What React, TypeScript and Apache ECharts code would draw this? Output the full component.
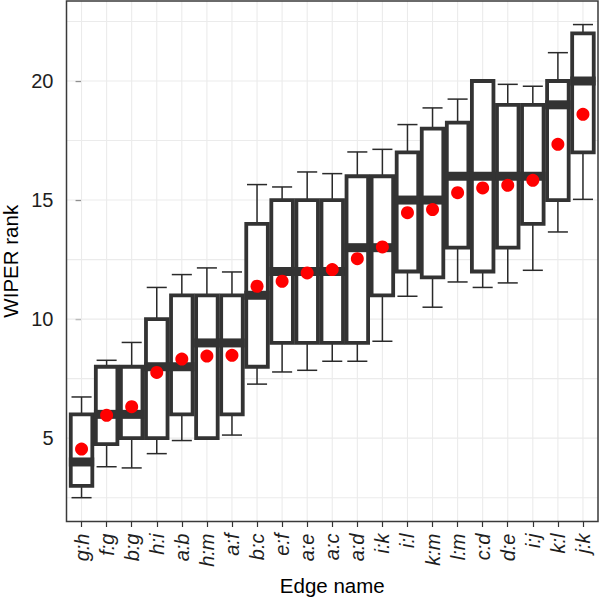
import React, { useEffect, useRef } from 'react';
import * as echarts from 'echarts';

const categories = ['g:h', 'f:g', 'b:g', 'h:i', 'a:b', 'h:m', 'a:f', 'b:c', 'e:f', 'a:e', 'a:c', 'a:d', 'i:k', 'i:l', 'k:m', 'l:m', 'c:d', 'd:e', 'i:j', 'k:l', 'j:k'];
const lowerWhisker = [2.5, 3.8, 3.75, 4.35, 4.9, 5, 5.13, 7.27, 7.78, 7.85, 8.23, 8.23, 9.07, 10.96, 10.5, 11.56, 11.33, 11.52, 12.05, 13.66, 15.03];
const q1 = [3, 4.75, 5, 5, 6, 5, 6, 8, 9, 9, 9, 9, 11, 12, 11.75, 13, 12, 13, 14, 15, 17];
const median = [4, 6, 6, 8, 8, 9, 9, 11, 12, 12, 12, 13, 13, 15, 15, 16, 16, 16, 16, 19, 20];
const q3 = [6, 8, 8, 10, 11, 11, 11, 14, 15, 15, 15, 16, 16, 17, 18, 18.25, 20, 19, 19, 20, 22];
const upperWhisker = [6.73, 8.27, 9.02, 11.33, 11.87, 12.15, 11.98, 15.65, 15.55, 16.18, 16.11, 17.02, 17.13, 18.17, 18.87, 19.24, 20, 19.86, 19.78, 21.19, 22.37];
const means = [4.54, 5.96, 6.32, 7.76, 8.32, 8.45, 8.48, 11.38, 11.59, 11.94, 12.08, 12.54, 13.03, 14.47, 14.6, 15.31, 15.51, 15.62, 15.83, 17.34, 18.6];

const yTicks = [5, 10, 15, 20];
const yGridLines = [2.5, 5, 7.5, 10, 12.5, 15, 17.5, 20, 22.5];
const xMin = -0.6;
const xMax = 20.6;
const yMin = 1.5;
const yMax = 23.36;

const FONT = "'Liberation Sans', Arial, Helvetica, sans-serif";

export default function App() {
  const ref = useRef<HTMLDivElement>(null);
  useEffect(() => {
    if (!ref.current) return;
    const chart = echarts.init(ref.current, undefined, { renderer: 'svg' });
    const idx = categories.map((_, i) => i);

    const boxData = categories.map((_, i) => [i, lowerWhisker[i], q1[i], median[i], q3[i], upperWhisker[i]]);

    const option: any = {
      animation: false,
      backgroundColor: '#ffffff',
      grid: { left: 66.5, right: 2, top: 1, bottom: 76.5, containLabel: false, outerBoundsMode: 'none' },
      xAxis: {
        type: 'value',
        min: xMin,
        max: xMax,
        name: 'Edge name',
        nameLocation: 'middle',
        nameGap: 53,
        nameMoveOverlap: false,
        nameTextStyle: { fontFamily: FONT, fontSize: 20.5, color: '#000' },
        axisLine: { show: false },
        axisTick: { show: true, customValues: idx, length: 5.5, lineStyle: { color: '#333', width: 1.2 } },
        axisLabel: {
          customValues: idx,
          formatter: (v: number) => categories[Math.round(v)] ?? '',
          rotate: 90,
          margin: 12,
          fontFamily: FONT,
          fontSize: 20,
          fontStyle: 'italic',
          color: '#1e1e1e',
        },
        splitLine: { show: false },
      },
      yAxis: {
        type: 'value',
        min: yMin,
        max: yMax,
        name: 'WIPER rank',
        nameLocation: 'middle',
        nameGap: 46,
        nameMoveOverlap: false,
        nameTextStyle: { fontFamily: FONT, fontSize: 20.5, color: '#000' },
        axisLine: { show: false },
        axisTick: { show: true, customValues: yTicks, length: 6, lineStyle: { color: '#333', width: 1.2 } },
        axisLabel: {
          customValues: yTicks,
          margin: 13,
          fontFamily: FONT,
          fontSize: 20,
          color: '#1e1e1e',
        },
        splitLine: { show: false },
      },
      graphic: [
        {
          type: 'rect',
          z: 100,
          shape: { x: 66.5, y: 1, width: 531.5, height: 520.5 },
          style: { fill: 'none', stroke: '#3a3a3a', lineWidth: 1.5 },
        },
      ],
      series: [
        {
          type: 'custom',
          name: 'hgrid',
          z: 1,
          silent: true,
          data: yGridLines.map((v) => [0, v]),
          renderItem: (params: any, api: any) => {
            const cs = params.coordSys;
            const p = api.coord([0, api.value(1)]);
            return {
              type: 'line',
              shape: { x1: cs.x, y1: p[1], x2: cs.x + cs.width, y2: p[1] },
              style: { stroke: '#ebebeb', lineWidth: 1.1 },
            };
          },
        },
        {
          type: 'custom',
          name: 'vgrid',
          z: 1,
          silent: true,
          data: idx.map((i) => [i, yMin]),
          renderItem: (params: any, api: any) => {
            const cs = params.coordSys;
            const p = api.coord([api.value(0), yMin]);
            return {
              type: 'line',
              shape: { x1: p[0], y1: cs.y, x2: p[0], y2: cs.y + cs.height },
              style: { stroke: '#ebebeb', lineWidth: 1.1 },
            };
          },
        },
        {
          type: 'custom',
          name: 'boxes',
          z: 3,
          data: boxData,
          encode: { x: 0, y: [1, 2, 3, 4, 5] },
          renderItem: (params: any, api: any) => {
            const x = api.value(0);
            const lo = api.coord([x, api.value(1)]);
            const b1 = api.coord([x, api.value(2)]);
            const md = api.coord([x, api.value(3)]);
            const b3 = api.coord([x, api.value(4)]);
            const hi = api.coord([x, api.value(5)]);
            const band = api.size([1, 0])[0];
            const cx = lo[0];
            const boxW = band * 0.86;
            const capW = band * 0.8;
            const bw = 3.8;
            const children: any[] = [];
            const wStyle = { stroke: '#2a2a2a', lineWidth: 1.5 };
            if (api.value(5) > api.value(4)) {
              children.push({ type: 'line', shape: { x1: cx, y1: b3[1], x2: cx, y2: hi[1] }, style: wStyle });
              children.push({ type: 'line', shape: { x1: cx - capW / 2, y1: hi[1], x2: cx + capW / 2, y2: hi[1] }, style: wStyle });
            }
            if (api.value(1) < api.value(2)) {
              children.push({ type: 'line', shape: { x1: cx, y1: b1[1], x2: cx, y2: lo[1] }, style: wStyle });
              children.push({ type: 'line', shape: { x1: cx - capW / 2, y1: lo[1], x2: cx + capW / 2, y2: lo[1] }, style: wStyle });
            }
            children.push({
              type: 'rect',
              shape: { x: cx - boxW / 2, y: b3[1], width: boxW, height: b1[1] - b3[1] },
              style: { fill: '#ffffff', stroke: '#333', lineWidth: bw },
            });
            children.push({
              type: 'rect',
              shape: { x: cx - boxW / 2 - bw / 2, y: md[1] - 4.5, width: boxW + bw, height: 9 },
              style: { fill: '#333' },
            });
            return { type: 'group', children };
          },
        },
        {
          type: 'scatter',
          name: 'mean',
          z: 5,
          symbol: 'circle',
          symbolSize: 13,
          itemStyle: { color: '#ff0000', opacity: 1 },
          data: means.map((m, i) => [i, m]),
        },
      ],
    };
    chart.setOption(option);
    return () => chart.dispose();
  }, []);
  return <div ref={ref} style={{ width: 600, height: 598, position: 'absolute', left: 0, top: 0 }} />;
}
